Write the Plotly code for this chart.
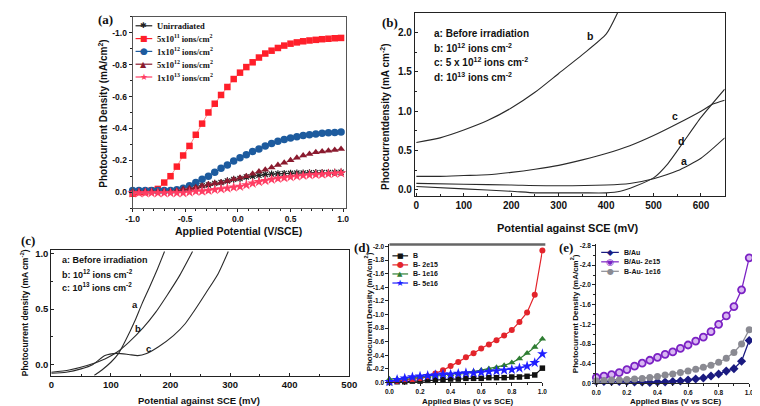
import plotly.graph_objects as go

W, H = 760, 406
SANS = "Liberation Sans, Arial, sans-serif"
SERIF = "Liberation Serif, Times New Roman, serif"

def fx(p):
    return p / W

def fy(p):
    return 1 - p / H

# ---------------- data: panel (a) ----------------
a_potential = [-1.0, -0.94, -0.88, -0.82, -0.76, -0.70, -0.64, -0.58, -0.52, -0.46, -0.40, -0.34,
               -0.28, -0.22, -0.16, -0.10, -0.04, 0.02, 0.08, 0.14, 0.20, 0.26, 0.32, 0.38, 0.44,
               0.50, 0.56, 0.62, 0.68, 0.74, 0.80, 0.86, 0.92, 0.98]
a_unirradiated = [-0.005, -0.005, -0.005, -0.005, -0.005, -0.005, -0.005, -0.01, -0.015, -0.02, -0.03,
                  -0.04, -0.045, -0.055, -0.06, -0.07, -0.08, -0.085, -0.095, -0.10, -0.105, -0.11,
                  -0.113, -0.115, -0.117, -0.118, -0.12, -0.12, -0.121, -0.122, -0.123, -0.123, -0.124, -0.125]
a_5e11 = [0.01, 0.0, 0.0, -0.01, -0.02, -0.06, -0.10, -0.16, -0.23, -0.29, -0.36, -0.43, -0.50, -0.555,
          -0.61, -0.66, -0.71, -0.75, -0.785, -0.815, -0.845, -0.87, -0.888, -0.905, -0.92, -0.932,
          -0.94, -0.947, -0.952, -0.956, -0.96, -0.963, -0.966, -0.968]
a_1e12 = [-0.01, -0.01, -0.01, -0.01, -0.01, -0.01, -0.01, -0.015, -0.025, -0.04, -0.06, -0.08, -0.10,
          -0.125, -0.15, -0.17, -0.195, -0.215, -0.235, -0.255, -0.27, -0.29, -0.305, -0.32, -0.33,
          -0.34, -0.348, -0.355, -0.36, -0.365, -0.37, -0.372, -0.375, -0.377]
a_5e12 = [-0.005, -0.005, -0.005, -0.005, -0.005, -0.005, -0.005, -0.01, -0.02, -0.025, -0.03, -0.04,
          -0.05, -0.055, -0.06, -0.07, -0.08, -0.09, -0.10, -0.115, -0.13, -0.14, -0.155, -0.17, -0.185,
          -0.20, -0.215, -0.23, -0.24, -0.25, -0.255, -0.26, -0.265, -0.27]
a_1e13 = [0.005, 0.005, 0.005, 0.005, 0.005, 0.005, 0.005, 0.005, 0.005, 0.0, -0.005, -0.005, -0.01,
          -0.015, -0.02, -0.025, -0.03, -0.035, -0.045, -0.055, -0.065, -0.072, -0.08, -0.085, -0.09,
          -0.095, -0.10, -0.105, -0.108, -0.11, -0.112, -0.115, -0.117, -0.12]
a_labels = ["Unirradiated", "5x10<sup>11</sup> ions/cm<sup>2</sup>", "1x10<sup>12</sup> ions/cm<sup>2</sup>",
            "5x10<sup>12</sup> ions/cm<sup>2</sup>", "1x10<sup>13</sup> ions/cm<sup>2</sup>"]

# ---------------- data: panel (b) ----------------
b_a_x = [0, 100, 200, 300, 400, 450, 500, 550, 600, 650]
b_a_y = [0.08, 0.07, 0.06, 0.05, 0.06, 0.08, 0.14, 0.24, 0.40, 0.66]
b_b_x = [0, 50, 100, 150, 200, 250, 300, 350, 400, 424]
b_b_y = [0.60, 0.66, 0.76, 0.88, 1.04, 1.24, 1.48, 1.72, 1.98, 2.25]
b_c_x = [0, 50, 100, 150, 200, 250, 300, 350, 400, 450, 500, 550, 600, 625, 650]
b_c_y = [0.17, 0.17, 0.18, 0.19, 0.22, 0.26, 0.31, 0.38, 0.46, 0.56, 0.69, 0.84, 1.00, 1.09, 1.14]
b_d_x = [0, 100, 200, 250, 300, 350, 400, 430, 460, 500, 530, 560, 600, 650]
b_d_y = [0.04, 0.01, -0.02, -0.04, -0.04, -0.04, -0.04, -0.02, 0.04, 0.15, 0.33, 0.58, 0.92, 1.28]
b_texts = ["a: Before irradiation", "b: 10<sup>12</sup> ions cm<sup>-2</sup>",
           "c: 5 x 10<sup>12</sup> ions cm<sup>-2</sup>", "d: 10<sup>13</sup> ions cm<sup>-2</sup>"]

# ---------------- data: panel (c) ----------------
c_a_x = [72, 85, 100, 113, 125, 140, 152, 165, 178, 190]
c_a_y = [-0.10, -0.05, 0.02, 0.10, 0.22, 0.39, 0.545, 0.70, 0.86, 1.02]
c_b_x = [0, 30, 60, 90, 110, 130, 154, 175, 195, 215, 237]
c_b_y = [-0.07, -0.05, -0.01, 0.05, 0.11, 0.20, 0.33, 0.47, 0.63, 0.80, 1.02]
c_c_x = [0, 25, 50, 70, 90, 110, 130, 145, 160, 180, 205, 225, 240, 260, 280, 297]
c_c_y = [-0.08, -0.07, -0.04, 0.0, 0.08, 0.10, 0.09, 0.08, 0.10, 0.16, 0.26, 0.37, 0.485, 0.65, 0.82, 1.02]
c_texts = ["a: Before irradiation", "b: 10<sup>12</sup> ions cm<sup>-2</sup>",
           "c: 10<sup>13</sup> ions cm<sup>-2</sup>"]

# ---------------- data: panels (d) and (e) ----------------
bias = [0.0, 0.05, 0.10, 0.15, 0.20, 0.25, 0.30, 0.35, 0.40, 0.45, 0.50,
        0.55, 0.60, 0.65, 0.70, 0.75, 0.80, 0.85, 0.90, 0.95, 1.0]
d_B = [0.00, -0.01, -0.01, -0.02, -0.02, -0.03, -0.04, -0.04, -0.05, -0.05, -0.06,
       -0.06, -0.06, -0.07, -0.07, -0.07, -0.08, -0.08, -0.09, -0.11, -0.21]
d_B_2e15 = [-0.01, -0.02, -0.03, -0.04, -0.06, -0.09, -0.13, -0.18, -0.24, -0.30, -0.37,
            -0.43, -0.50, -0.56, -0.62, -0.69, -0.77, -0.89, -1.03, -1.29, -1.94]
d_B_1e16 = [-0.05, -0.05, -0.06, -0.07, -0.08, -0.09, -0.10, -0.11, -0.12, -0.13, -0.14,
            -0.16, -0.18, -0.20, -0.22, -0.25, -0.29, -0.35, -0.43, -0.52, -0.64]
d_B_5e16 = [-0.01, -0.04, -0.06, -0.08, -0.09, -0.10, -0.11, -0.12, -0.12, -0.13, -0.14,
            -0.14, -0.15, -0.16, -0.17, -0.18, -0.19, -0.21, -0.24, -0.29, -0.42]
d_labels = ["B", "B- 2e15", "B- 1e16", "B- 5e16"]
e_BAu = [-0.04, -0.04, -0.04, -0.04, -0.04, -0.03, -0.03, -0.02, -0.03, -0.03, -0.04,
         -0.05, -0.07, -0.09, -0.11, -0.15, -0.19, -0.25, -0.30, -0.45, -0.87]
e_BAu_2e15 = [-0.12, -0.15, -0.18, -0.22, -0.28, -0.35, -0.41, -0.47, -0.53, -0.59, -0.64,
              -0.71, -0.78, -0.86, -0.94, -1.05, -1.20, -1.37, -1.56, -1.90, -2.55]
e_BAu_1e16 = [-0.05, -0.06, -0.07, -0.07, -0.08, -0.09, -0.10, -0.12, -0.14, -0.17, -0.19,
              -0.22, -0.25, -0.29, -0.33, -0.37, -0.43, -0.51, -0.63, -0.80, -1.09]
e_labels = ["B/Au", "B/Au- 2e15", "B-Au- 1e16"]

fig = go.Figure()

# ---------- panel (a) traces ----------
a_styles = [
    (a_unirradiated, "#222222", "#777777", "asterisk-open", 6),
    (a_5e11, "#ff1f2a", "#ff8a8a", "square", 6.5),
    (a_1e12, "#1d5b9e", "#6f9cc8", "circle", 7.5),
    (a_5e12, "#8a1a2e", "#b06a78", "triangle-up", 7),
    (a_1e13, "#ff3d63", "#ff9aac", "star", 8),
]
for vals, mc, lc, sym, sz in a_styles:
    mk = dict(symbol=sym, size=sz, color=mc)
    if sym == "asterisk-open":
        mk["line"] = dict(color=mc, width=1.2)
    fig.add_trace(go.Scatter(x=a_potential, y=vals, mode="lines+markers", xaxis="x", yaxis="y",
                             line=dict(color=lc, width=1), marker=mk, showlegend=False,
                             cliponaxis=False))

# ---------- panel (b) traces ----------
for xs, ys in [(b_a_x, b_a_y), (b_b_x, b_b_y), (b_c_x, b_c_y), (b_d_x, b_d_y)]:
    fig.add_trace(go.Scatter(x=xs, y=ys, mode="lines", xaxis="x2", yaxis="y2",
                             line=dict(color="#2a2a2a", width=1.1, shape="spline", smoothing=0.6),
                             showlegend=False))

# ---------- panel (c) traces ----------
for xs, ys in [(c_a_x, c_a_y), (c_b_x, c_b_y), (c_c_x, c_c_y)]:
    fig.add_trace(go.Scatter(x=xs, y=ys, mode="lines", xaxis="x3", yaxis="y3",
                             line=dict(color="#2a2a2a", width=1.1, shape="spline", smoothing=0.6),
                             showlegend=False))

# ---------- panel (d) traces ----------
d_styles = [
    (d_B, "#111111", "square", 5.5),
    (d_B_2e15, "#e3242b", "circle", 6),
    (d_B_1e16, "#2e7d32", "triangle-up", 6.5),
    (d_B_5e16, "#1f1fff", "star", 8),
]
for vals, c, sym, sz in d_styles:
    fig.add_trace(go.Scatter(x=bias, y=vals, mode="lines+markers", xaxis="x4", yaxis="y4",
                             line=dict(color=c, width=1.2), marker=dict(symbol=sym, size=sz, color=c),
                             showlegend=False, cliponaxis=False))

# ---------- panel (e) traces ----------
fig.add_trace(go.Scatter(x=bias, y=e_BAu, mode="lines+markers", xaxis="x5", yaxis="y5",
                         line=dict(color="#1a1a80", width=1.3),
                         marker=dict(symbol="diamond", size=7, color="#1a1a80"),
                         showlegend=False, cliponaxis=False))
fig.add_trace(go.Scatter(x=bias, y=e_BAu_2e15, mode="lines+markers", xaxis="x5", yaxis="y5",
                         line=dict(color="#7b22c4", width=1.3),
                         marker=dict(symbol="circle", size=7, color="#d8b6f2",
                                     line=dict(color="#7b22c4", width=1.8)),
                         showlegend=False, cliponaxis=False))
fig.add_trace(go.Scatter(x=bias, y=e_BAu_1e16, mode="lines+markers", xaxis="x5", yaxis="y5",
                         line=dict(color="#8a8a92", width=1.3),
                         marker=dict(symbol="circle", size=7, color="#8a8a92"),
                         showlegend=False, cliponaxis=False))

# ---------- axes ----------
def axis_common(size, **kw):
    d = dict(showgrid=False, zeroline=False, showline=True, linecolor="#222", linewidth=1,
             tickfont=dict(family=SANS, size=size, color="#111", weight="bold"),
             ticklen=3, tickwidth=1, tickcolor="#222")
    d.update(kw)
    return d

layout_axes = dict(
    xaxis=axis_common(8.5, domain=[fx(120), fx(338)], range=[-1.0, 1.03], anchor="y",
                      tickvals=[-1.0, -0.5, 0.0, 0.5, 1.0], ticktext=["-1.0", "-0.5", "0.0", "0.5", "1.0"],
                      ticks="outside", mirror=True, linecolor="#555",
                      minor=dict(tickvals=[-0.9, -0.8, -0.7, -0.6, -0.4, -0.3, -0.2, -0.1, 0.1, 0.2, 0.3,
                                           0.4, 0.6, 0.7, 0.8, 0.9], ticklen=2, ticks="outside")),
    yaxis=axis_common(8.5, domain=[fy(200), fy(6)], range=[0.1, -1.1], anchor="x",
                      tickvals=[0.0, -0.2, -0.4, -0.6, -0.8, -1.0],
                      ticktext=["0.0", "-0.2", "-0.4", "-0.6", "-0.8", "-1.0"],
                      ticks="outside", mirror=True, linecolor="#555",
                      minor=dict(tickvals=[0.1, -0.1, -0.3, -0.5, -0.7, -0.9, -1.1], ticklen=2, ticks="outside")),
    xaxis2=axis_common(10, domain=[fx(408), fx(724)], range=[-3, 650], anchor="y2",
                       tickvals=[0, 100, 200, 300, 400, 500, 600], ticks="inside", mirror=True,
                       minor=dict(tickvals=[50, 150, 250, 350, 450, 550], ticklen=2, ticks="inside")),
    yaxis2=axis_common(10, domain=[fy(188), fy(2)], range=[-0.083, 2.25], anchor="x2",
                       tickvals=[0, 0.5, 1.0, 1.5, 2.0], ticktext=["0.0", "0.5", "1.0", "1.5", "2.0"],
                       ticks="inside", mirror=True,
                       minor=dict(tickvals=[0.25, 0.75, 1.25, 1.75], ticklen=2, ticks="inside")),
    xaxis3=axis_common(9.5, domain=[fx(37), fx(341)], range=[0, 500], anchor="y3",
                       tickvals=[0, 100, 200, 300, 400, 500], ticks="inside", mirror=True,
                       minor=dict(tickvals=[50, 150, 250, 350, 450], ticklen=2, ticks="inside")),
    yaxis3=axis_common(9.5, domain=[fy(370), fy(243)], range=[-0.1, 1.03], anchor="x3",
                       tickvals=[0, 0.5, 1.0], ticktext=["0.0", "0.5", "1.0"], ticks="inside", mirror=True,
                       minor=dict(tickvals=[0.25, 0.75], ticklen=2, ticks="inside")),
    xaxis4=axis_common(6.5, domain=[fx(382), fx(538)], range=[0, 1.0], anchor="y4",
                       tickvals=[0, 0.2, 0.4, 0.6, 0.8, 1.0], ticktext=["0.0", "0.2", "0.4", "0.6", "0.8", "1.0"],
                       ticks="outside",
                       minor=dict(tickvals=[0.1, 0.3, 0.5, 0.7, 0.9], ticklen=2, ticks="outside")),
    yaxis4=axis_common(6.5, domain=[fy(377), fy(237)], range=[0, -2.03], anchor="x4",
                       tickvals=[0, -0.2, -0.4, -0.6, -0.8, -1.0, -1.2, -1.4, -1.6, -1.8, -2.0],
                       ticktext=["0.0", "-0.2", "-0.4", "-0.6", "-0.8", "-1.0", "-1.2", "-1.4", "-1.6", "-1.8", "-2.0"],
                       ticks="outside"),
    xaxis5=axis_common(6.5, domain=[fx(593), fx(749)], range=[0, 1.0], anchor="y5",
                       tickvals=[0, 0.2, 0.4, 0.6, 0.8, 1.0], ticktext=["0.0", "0.2", "0.4", "0.6", "0.8", "1.0"],
                       ticks="outside",
                       minor=dict(tickvals=[0.1, 0.3, 0.5, 0.7, 0.9], ticklen=2, ticks="outside")),
    yaxis5=axis_common(6.5, domain=[fy(378), fy(237)], range=[0, -2.82], anchor="x5",
                       tickvals=[0, -0.4, -0.8, -1.2, -1.6, -2.0, -2.4, -2.8],
                       ticktext=["0.0", "-0.4", "-0.8", "-1.2", "-1.6", "-2.0", "-2.4", "-2.8"],
                       ticks="outside",
                       minor=dict(tickvals=[-0.2, -0.6, -1.0, -1.4, -1.8, -2.2, -2.6], ticklen=2, ticks="outside")),
)

annotations = []
shapes = []

def ann(x, y, text, size, family=SANS, bold=True, xanchor="center", angle=0, color="#111"):
    annotations.append(dict(x=fx(x), y=fy(y), xref="paper", yref="paper", text=text, showarrow=False,
                            xanchor=xanchor, yanchor="middle", textangle=angle,
                            font=dict(family=family, size=size, color=color,
                                      weight="bold" if bold else "normal")))

# panel labels
ann(92, 9, "(a)", 13, family=SERIF)
ann(383, 12, "(b)", 13, family=SERIF)
ann(13, 233, "(c)", 13, family=SERIF)
ann(354, 240, "(d)", 13, family=SERIF)
ann(562, 240, "(e)", 13, family=SERIF)

# axis titles
ann(90, 104, "Photocurrent Density (mA/cm<sup>2</sup>)", 10, angle=-90)
ann(228, 223, "Applied Potential (V/SCE)", 10.5)
ann(378, 108, "Photocurrentdensity (mA cm<sup>-2</sup>)", 10, angle=-90)
ann(564, 220, "Potential against SCE (mV)", 11)
ann(10, 306, "Photocurrent density (mA cm<sup>-2</sup>)", 8.5, angle=-90)
ann(188, 395, "Potential against SCE (mV)", 9.5)
ann(361, 305, "Photocurrent Density (mA/cm<sup>2</sup>)", 8, angle=-90)
ann(462, 396, "Applied Bias (V vs SCE)", 8)
ann(571, 307, "Photocurrent Density (mA/cm<sup>2</sup>)", 8, angle=-90)
ann(674, 396, "Applied Bias (V vs SCE)", 8)

# panel (b) text block and curve labels
for i, t in enumerate(b_texts):
    ann(425, 23 + i * 14.5, t, 10, xanchor="left")
ann(587, 25, "b", 10.5)
ann(673, 107, "c", 10.5)
ann(679, 132, "d", 10.5)
ann(682, 152, "a", 10.5)

# panel (c) text block and curve labels
for i, t in enumerate(c_texts):
    ann(46, 253 + i * 13.5, t, 9, xanchor="left")
ann(122, 298, "a", 9.5)
ann(125, 322, "b", 9.5)
ann(136, 343, "c", 9.5)

# manual legends (line sample as shape, glyph + label as text)
def legend_item(x0, x1, y, color, glyph, gsize, label, lsize, family, gcolor=None):
    shapes.append(dict(type="line", xref="paper", yref="paper", x0=fx(x0), x1=fx(x1), y0=fy(y), y1=fy(y),
                       line=dict(color=color, width=1.2)))
    ann((x0 + x1) / 2, y, glyph, gsize, bold=False, family="DejaVu Sans", color=gcolor or color)
    ann(x1 + 3, y, label, lsize, family=family, xanchor="left", color="#111")

a_glyphs = [("#222222", "✱", 8), ("#ff1f2a", "■", 8), ("#1d5b9e", "●", 9), ("#8a1a2e", "▲", 8), ("#ff3d63", "★", 9)]
for i, (c, g, gs) in enumerate(a_glyphs):
    legend_item(123, 140, 15 + i * 13, c, g, gs, a_labels[i], 8.5, SERIF)

d_glyphs = [("#111111", "■", 7), ("#e3242b", "●", 8), ("#2e7d32", "▲", 7), ("#1f1fff", "★", 9)]
for i, (c, g, gs) in enumerate(d_glyphs):
    legend_item(385, 401, 248.5 + i * 9.2, c, g, gs, d_labels[i], 7, SANS)

e_glyphs = [("#1a1a80", "◆", 8), ("#7b22c4", "◉", 9), ("#8a8a92", "●", 8)]
for i, (c, g, gs) in enumerate(e_glyphs):
    legend_item(598, 616, 245 + i * 9.6, c, g, gs, e_labels[i], 7, SANS)

# thick grey top border of panel (d)
shapes.append(dict(type="line", xref="paper", yref="paper", x0=fx(382), x1=fx(541), y0=fy(237), y1=fy(237),
                   line=dict(color="#666", width=2.5)))

fig.update_layout(width=W, height=H, margin=dict(l=0, r=0, t=0, b=0), paper_bgcolor="white",
                  plot_bgcolor="rgba(0,0,0,0)", showlegend=False, annotations=annotations, shapes=shapes,
                  **layout_axes)

fig.write_html("out.html")
